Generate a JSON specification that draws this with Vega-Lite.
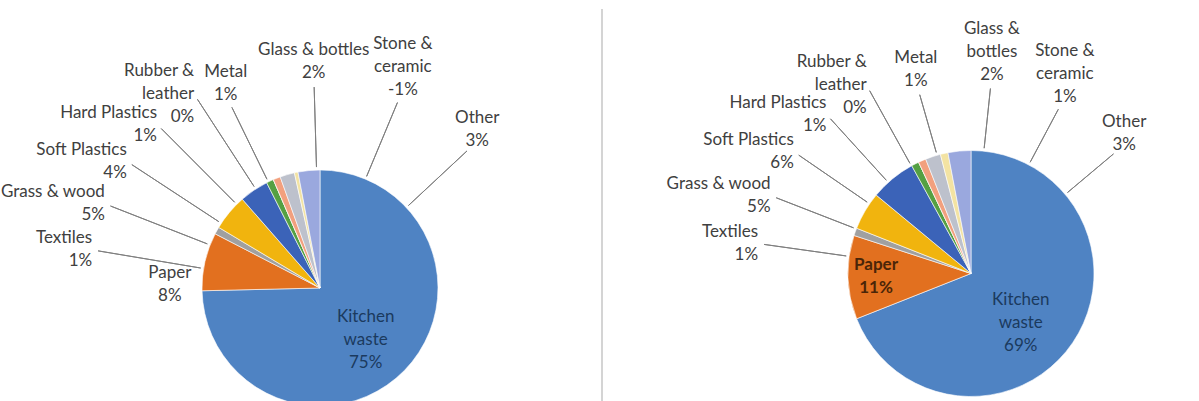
{
  "$schema": "https://vega.github.io/schema/vega-lite/v6.json",
  "padding": 0,
  "spacing": 0,
  "background": "white",
  "config": {"view": {"stroke": null}, "text": {"font": "Lato", "fontSize": 17, "lineHeight": 23, "lineBreak": "\n", "color": "#404040", "baseline": "middle"}},
  "datasets": {
    "left": [
      {"category": "Kitchen waste", "order": 1, "share": 75, "label": "Kitchen\nwaste\n75%"},
      {"category": "Paper", "order": 2, "share": 8, "label": "Paper\n8%"},
      {"category": "Textiles", "order": 3, "share": 1, "label": "Textiles\n1%"},
      {"category": "Grass & wood", "order": 4, "share": 5, "label": "Grass & wood\n5%"},
      {"category": "Soft Plastics", "order": 5, "share": 4, "label": "Soft Plastics\n4%"},
      {"category": "Hard Plastics", "order": 6, "share": 1, "label": "Hard Plastics\n1%"},
      {"category": "Rubber & leather", "order": 7, "share": 0, "label": "Rubber &\nleather\n0%"},
      {"category": "Metal", "order": 8, "share": 1, "label": "Metal\n1%"},
      {"category": "Glass & bottles", "order": 9, "share": 2, "label": "Glass & bottles\n2%"},
      {"category": "Stone & ceramic", "order": 10, "share": 0.5, "label": "Stone &\nceramic\n-1%"},
      {"category": "Other", "order": 11, "share": 3, "label": "Other\n3%"}
    ],
    "right": [
      {"category": "Kitchen waste", "order": 1, "share": 69, "label": "Kitchen\nwaste\n69%"},
      {"category": "Paper", "order": 2, "share": 11, "label": "Paper\n11%"},
      {"category": "Textiles", "order": 3, "share": 1, "label": "Textiles\n1%"},
      {"category": "Grass & wood", "order": 4, "share": 5, "label": "Grass & wood\n5%"},
      {"category": "Soft Plastics", "order": 5, "share": 6, "label": "Soft Plastics\n6%"},
      {"category": "Hard Plastics", "order": 6, "share": 1, "label": "Hard Plastics\n1%"},
      {"category": "Rubber & leather", "order": 7, "share": 0, "label": "Rubber &\nleather\n0%"},
      {"category": "Metal", "order": 8, "share": 1, "label": "Metal\n1%"},
      {"category": "Glass & bottles", "order": 9, "share": 2, "label": "Glass &\nbottles\n2%"},
      {"category": "Stone & ceramic", "order": 10, "share": 1, "label": "Stone &\nceramic\n1%"},
      {"category": "Other", "order": 11, "share": 3, "label": "Other\n3%"}
    ]
  },
  "hconcat": [
    {
      "width": 598,
      "height": 401,
      "data": {"name": "left"},
      "resolve": {"scale": {"theta": "independent"}},
      "layer": [
        {
          "mark": {"type": "arc", "x": 317, "y": 288, "radius": 118, "stroke": "white", "strokeWidth": 0.6},
          "encoding": {
            "theta": {"field": "share", "type": "quantitative", "stack": true},
            "order": {"field": "order", "type": "quantitative"},
            "color": {
              "field": "category", "type": "nominal", "legend": null,
              "scale": {
                "domain": ["Kitchen waste", "Paper", "Textiles", "Grass & wood", "Soft Plastics", "Hard Plastics", "Rubber & leather", "Metal", "Glass & bottles", "Stone & ceramic", "Other"],
                "range": ["#4F83C3", "#E2701F", "#A0A0A0", "#F1B40E", "#3B63B8", "#55A043", "#2A4A7E", "#F2A07E", "#BDC1CC", "#F3E3A3", "#9AA8DE"]
              }
            }
          }
        },
        {
          "mark": {"type": "text", "x": 317, "y": 288, "radius": 75, "dx": -8, "dy": -23, "align": "center", "color": "#1B3A5E"},
          "encoding": {
            "theta": {"field": "share", "type": "quantitative", "stack": true},
            "order": {"field": "order", "type": "quantitative"},
            "text": {"condition": {"test": "datum.order === 1", "field": "label"}, "value": ""}
          }
        },
        {
          "mark": {"type": "text", "x": 317, "y": 288, "radius": 150, "dx": -4, "dy": 19, "align": "center"},
          "encoding": {
            "theta": {"field": "share", "type": "quantitative", "stack": true},
            "order": {"field": "order", "type": "quantitative"},
            "text": {"condition": {"test": "datum.order === 2", "field": "label"}, "value": ""}
          }
        },
        {
          "transform": [{"filter": "datum.order >= 3 && datum.order <= 7"}],
          "mark": {"type": "arc", "x": 317, "y": 288, "radius": 225, "radius2": 121, "filled": false, "stroke": "#7F7F7F", "strokeWidth": 1},
          "encoding": {
            "theta": {"field": "order", "type": "quantitative", "scale": {"domain": [3, 7], "range": [4.8782, 5.7072]}},
            "theta2": {"field": "order"}
          }
        },
        {
          "transform": [{"filter": "datum.order >= 3 && datum.order <= 7 && split(datum.label, '\\n').length === 2"}],
          "mark": {"type": "text", "x": 317, "y": 288, "radius": 231, "dy": -11.5, "align": "right"},
          "encoding": {
            "theta": {"field": "order", "type": "quantitative", "scale": {"domain": [3, 7], "range": [4.8782, 5.7072]}},
            "text": {"field": "label"}
          }
        },
        {
          "transform": [{"filter": "datum.order >= 3 && datum.order <= 7 && split(datum.label, '\\n').length === 3"}],
          "mark": {"type": "text", "x": 317, "y": 288, "radius": 231, "dy": -23, "align": "right"},
          "encoding": {
            "theta": {"field": "order", "type": "quantitative", "scale": {"domain": [3, 7], "range": [4.8782, 5.7072]}},
            "text": {"field": "label"}
          }
        },
        {
          "transform": [{"filter": "datum.order >= 8"}],
          "mark": {"type": "arc", "x": 317, "y": 288, "radius": 201, "radius2": 121, "filled": false, "stroke": "#7F7F7F", "strokeWidth": 1},
          "encoding": {
            "theta": {"field": "order", "type": "quantitative", "scale": {"domain": [8, 11], "range": [5.8294, 7.1035]}},
            "theta2": {"field": "order"}
          }
        },
        {
          "transform": [{"filter": "datum.order >= 8 && split(datum.label, '\\n').length === 2"}],
          "mark": {"type": "text", "x": 317, "y": 288, "radius": 215, "dy": -23, "align": "center"},
          "encoding": {
            "theta": {"field": "order", "type": "quantitative", "scale": {"domain": [8, 11], "range": [5.8294, 7.1035]}},
            "text": {"field": "label"}
          }
        },
        {
          "transform": [{"filter": "datum.order >= 8 && split(datum.label, '\\n').length === 3"}],
          "mark": {"type": "text", "x": 317, "y": 288, "radius": 215, "dy": -46, "align": "center"},
          "encoding": {
            "theta": {"field": "order", "type": "quantitative", "scale": {"domain": [8, 11], "range": [5.8294, 7.1035]}},
            "text": {"field": "label"}
          }
        }
      ]
    },
    {
      "width": 601,
      "height": 401,
      "data": {"name": "right"},
      "resolve": {"scale": {"theta": "independent"}},
      "layer": [
        {
          "data": {"values": [{}]},
          "mark": {"type": "rule", "color": "#D4D4D4", "strokeWidth": 2},
          "encoding": {"x": {"value": 0}, "y": {"value": 9}, "y2": {"value": 401}}
        },
        {
          "mark": {"type": "arc", "x": 369, "y": 273.5, "radius": 123, "stroke": "white", "strokeWidth": 0.6},
          "encoding": {
            "theta": {"field": "share", "type": "quantitative", "stack": true},
            "order": {"field": "order", "type": "quantitative"},
            "color": {
              "field": "category", "type": "nominal", "legend": null,
              "scale": {
                "domain": ["Kitchen waste", "Paper", "Textiles", "Grass & wood", "Soft Plastics", "Hard Plastics", "Rubber & leather", "Metal", "Glass & bottles", "Stone & ceramic", "Other"],
                "range": ["#4F83C3", "#E2701F", "#A0A0A0", "#F1B40E", "#3B63B8", "#55A043", "#2A4A7E", "#F2A07E", "#BDC1CC", "#F3E3A3", "#9AA8DE"]
              }
            }
          }
        },
        {
          "mark": {"type": "text", "x": 369, "y": 273.5, "radius": 88, "dx": -23, "dy": -23, "align": "center", "color": "#1B3A5E"},
          "encoding": {
            "theta": {"field": "share", "type": "quantitative", "stack": true},
            "order": {"field": "order", "type": "quantitative"},
            "text": {"condition": {"test": "datum.order === 1", "field": "label"}, "value": ""}
          }
        },
        {
          "mark": {"type": "text", "x": 369, "y": 273.5, "radius": 95, "dy": -11.5, "align": "center", "fontWeight": "bold", "color": "#4A2508"},
          "encoding": {
            "theta": {"field": "share", "type": "quantitative", "stack": true},
            "order": {"field": "order", "type": "quantitative"},
            "text": {"condition": {"test": "datum.order === 2", "field": "label"}, "value": ""}
          }
        },
        {
          "transform": [{"filter": "datum.order >= 3 && datum.order <= 7"}],
          "mark": {"type": "arc", "x": 369, "y": 273.5, "radius": 209, "radius2": 126, "filled": false, "stroke": "#7F7F7F", "strokeWidth": 1},
          "encoding": {
            "theta": {"field": "order", "type": "quantitative", "scale": {"domain": [3, 7], "range": [4.8520, 5.7770]}},
            "theta2": {"field": "order"}
          }
        },
        {
          "transform": [{"filter": "datum.order >= 3 && datum.order <= 7 && split(datum.label, '\\n').length === 2"}],
          "mark": {"type": "text", "x": 369, "y": 273.5, "radius": 215, "dy": -11.5, "align": "right"},
          "encoding": {
            "theta": {"field": "order", "type": "quantitative", "scale": {"domain": [3, 7], "range": [4.8520, 5.7770]}},
            "text": {"field": "label"}
          }
        },
        {
          "transform": [{"filter": "datum.order >= 3 && datum.order <= 7 && split(datum.label, '\\n').length === 3"}],
          "mark": {"type": "text", "x": 369, "y": 273.5, "radius": 215, "dy": -23, "align": "right"},
          "encoding": {
            "theta": {"field": "order", "type": "quantitative", "scale": {"domain": [3, 7], "range": [4.8520, 5.7770]}},
            "text": {"field": "label"}
          }
        },
        {
          "transform": [{"filter": "datum.order >= 8"}],
          "mark": {"type": "arc", "x": 369, "y": 273.5, "radius": 186, "radius2": 126, "filled": false, "stroke": "#7F7F7F", "strokeWidth": 1},
          "encoding": {
            "theta": {"field": "order", "type": "quantitative", "scale": {"domain": [8, 11], "range": [6.0039, 7.1558]}},
            "theta2": {"field": "order"}
          }
        },
        {
          "transform": [{"filter": "datum.order >= 8 && split(datum.label, '\\n').length === 2"}],
          "mark": {"type": "text", "x": 369, "y": 273.5, "radius": 200, "dy": -23, "align": "center"},
          "encoding": {
            "theta": {"field": "order", "type": "quantitative", "scale": {"domain": [8, 11], "range": [6.0039, 7.1558]}},
            "text": {"field": "label"}
          }
        },
        {
          "transform": [{"filter": "datum.order >= 8 && split(datum.label, '\\n').length === 3"}],
          "mark": {"type": "text", "x": 369, "y": 273.5, "radius": 200, "dy": -46, "align": "center"},
          "encoding": {
            "theta": {"field": "order", "type": "quantitative", "scale": {"domain": [8, 11], "range": [6.0039, 7.1558]}},
            "text": {"field": "label"}
          }
        }
      ]
    }
  ]
}
